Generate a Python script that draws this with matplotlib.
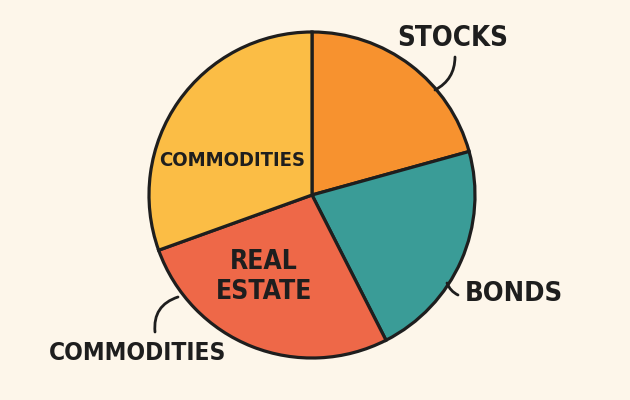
import matplotlib
matplotlib.use('Agg')
import matplotlib.pyplot as plt

# data
labels = ['STOCKS', 'BONDS', 'REAL ESTATE', 'COMMODITIES']
shares = [20.7, 21.8, 27.0, 30.5]
colors = ['#F7922F', '#3A9C97', '#EE6848', '#FBBD45']
bg = '#FDF6EA'
ink = '#1E1E1E'

plt.rcParams['font.family'] = ['DejaVu Sans']

fig = plt.figure(figsize=(6.3, 4.0), dpi=100, facecolor=bg)
ax = fig.add_axes([0, 0, 1, 1])
ax.set_facecolor(bg)

cx, cy, r = 312, 205, 163
ax.pie(shares, colors=colors, startangle=90, counterclock=False,
       center=(cx, cy), radius=r, frame=True,
       wedgeprops=dict(edgecolor=ink, linewidth=2.3))
ax.set_xlim(0, 630)
ax.set_ylim(0, 400)
ax.set_aspect('equal')
ax.axis('off')

txt = dict(ha='center', va='center', fontweight='bold', color=ink, fontstretch='condensed')
# labels inside the pie
ax.text(232, 400 - 160, 'COMMODITIES', fontsize=14.5, **txt)
ax.text(264, 400 - 277, 'REAL\nESTATE', fontsize=19, linespacing=1.2, **txt)

# labels outside the pie
ax.text(453, 400 - 38, 'STOCKS', fontsize=19.8, **txt)
ax.text(514, 400 - 294, 'BONDS', fontsize=19.6, **txt)
ax.text(138, 400 - 353, 'COMMODITIES', fontsize=17.6, **txt)

# connector strokes
line = dict(arrowstyle='-', color=ink, lw=2.0, shrinkA=0, shrinkB=0)
ax.annotate('', xy=(435, 400 - 90), xytext=(455, 400 - 57),
            arrowprops=dict(line, connectionstyle='arc3,rad=-0.3'))
ax.annotate('', xy=(447, 400 - 283), xytext=(458, 400 - 295),
            arrowprops=dict(line, connectionstyle='arc3,rad=-0.2'))
ax.annotate('', xy=(178, 400 - 297), xytext=(155, 400 - 332),
            arrowprops=dict(line, connectionstyle='arc3,rad=-0.4'))

fig.savefig('out.png', dpi=100, facecolor=bg)
